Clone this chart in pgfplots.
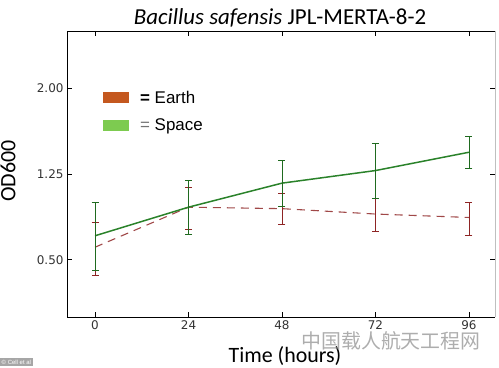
\documentclass[border=0pt]{standalone}
\usepackage{pgfplots}
\pgfplotsset{compat=1.18}
\usepackage{pgfplotstable}
\usepackage{fontspec}
\setmainfont{Carlito}
\newfontfamily\tickfont{DejaVu Sans}
\newfontfamily\legfont{Liberation Sans}
\newfontfamily\cjk{Noto Sans CJK SC}
\definecolor{earthFill}{HTML}{C4581F}
\definecolor{spaceFill}{HTML}{7DCB50}
\definecolor{earthLine}{HTML}{A04848}
\definecolor{earthErr}{HTML}{8E2424}
\definecolor{spaceLine}{HTML}{2A822A}
\definecolor{spaceErr}{HTML}{1F6A1F}

\pgfplotstableread{
x    y     ep    em
0    0.61  0.22  0.25
24   0.96  0.17  0.19
48   0.947 0.133 0.137
72   0.90  0.14  0.15
96   0.87  0.13  0.155
}\earthdata

\pgfplotstableread{
x    y     ep    em
0    0.71  0.29  0.30
24   0.96  0.23  0.24
48   1.17  0.196 0.20
72   1.28  0.24  0.24
96   1.44  0.14  0.14
}\spacedata

\begin{document}
\begin{tikzpicture}
\useasboundingbox (0,0) rectangle (499bp,368bp);
\begin{axis}[
  at={(67bp,51bp)}, anchor=south west,
  scale only axis, width=428bp, height=286bp,
  xmin=-7.2, xmax=102.7, ymin=0, ymax=2.5,
  xtick={0,24,48,72,96}, ytick={0.5,1.25,2.0},
  yticklabels={0.50,1.25,2.00},
  /pgf/number format/assume math mode=true,
  ticklabel style={font=\tickfont\fontsize{12}{12}\selectfont, color=black!80},
  axis line style={draw=none},
  tick style={black, line width=0.6pt},
  major tick length=5bp,
  tick align=inside,
  legend style={at={(0.084,0.798)}, anchor=north west, draw=none, fill=none,
    font=\legfont\fontsize{17}{17}\selectfont, row sep=10bp, inner sep=0pt},
  legend cell align=left,
  legend image code/.code={\fill[#1, draw=none] (0bp,-5.5bp) rectangle (26bp,5.5bp);
    \path[draw=none, fill=none] (0bp,0bp) -- (35bp,0bp);},
  after end axis/.code={
    \draw[black, line width=0.8pt] (rel axis cs:1,1) -- (rel axis cs:0,1) -- (rel axis cs:0,0) -- (rel axis cs:1,0);
    \draw[black!25, line width=0.6pt] (rel axis cs:1,0) -- (rel axis cs:1,1);
  },
]
\addlegendimage{fill=earthFill}
\addlegendentry{\textbf{=} Earth}
\addlegendimage{fill=spaceFill}
\addlegendentry{{\color{black!55}=} Space}

\addplot[forget plot, earthLine, line width=1.1pt, dash pattern=on 8bp off 6bp,
  error bars/.cd, y dir=both, y explicit,
  error bar style={solid, color=earthErr, line width=0.8pt},
  error mark options={rotate=90, mark size=3.5bp, color=earthErr, line width=0.8pt, solid}]
  table[x=x, y=y, y error plus=ep, y error minus=em] {\earthdata};

\addplot[forget plot, spaceLine, line width=1.5pt,
  error bars/.cd, y dir=both, y explicit,
  error bar style={color=spaceErr, line width=0.8pt},
  error mark options={rotate=90, mark size=3.5bp, color=spaceErr, line width=0.8pt}]
  table[x=x, y=y, y error plus=ep, y error minus=em] {\spacedata};
\end{axis}

\node[font=\fontsize{23}{23}\selectfont] at (280bp,350bp) {\textit{Bacillus safensis} JPL-MERTA-8-2};
\node[rotate=90, font=\fontsize{22}{22}\selectfont] at (8bp,197bp) {OD600};
\node[font=\fontsize{22}{22}\selectfont] at (285bp,12bp) {Time (hours)};
\node[font=\cjk\fontsize{20}{20}\selectfont, text=black!40, opacity=0.8] at (391bp,27bp) {中国载人航天工程网};
\node[fill=black!35, text=white, font=\legfont\fontsize{6}{6}\selectfont, inner sep=1.5bp, anchor=south west] at (0bp,2bp) {© Cell et al};
\end{tikzpicture}
\end{document}
